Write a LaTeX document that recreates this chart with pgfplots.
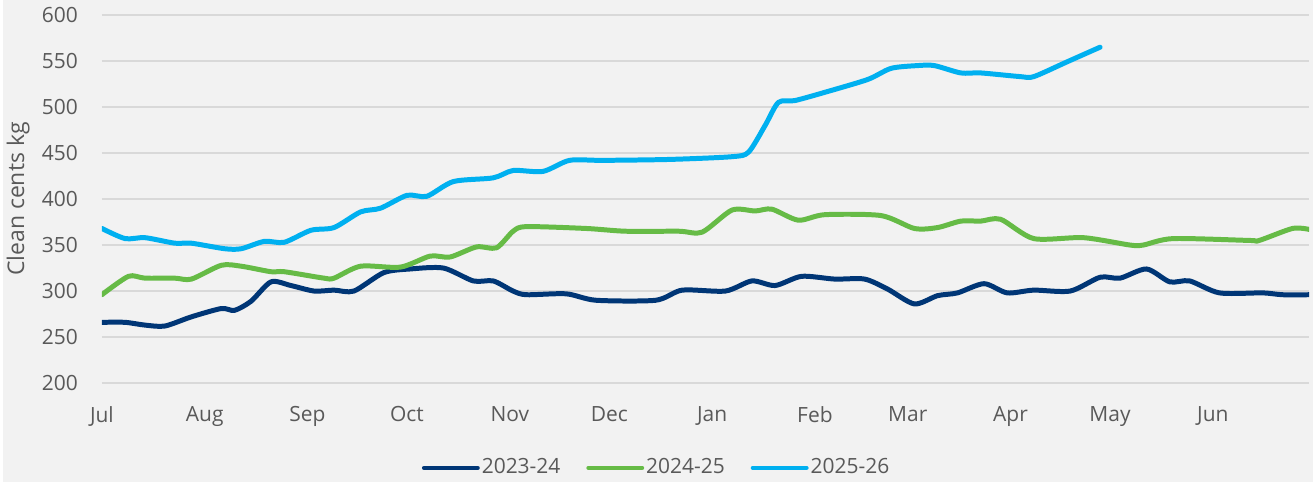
\documentclass[border=0pt]{standalone}
\usepackage{fontspec}
\setmainfont{Open Sans}
\usepackage{pgfplots}
\pgfplotsset{compat=1.18}
\definecolor{bg}{HTML}{F2F2F2}
\definecolor{gridc}{HTML}{D9D9D9}
\definecolor{txt}{HTML}{595959}
\definecolor{cA}{HTML}{003676}
\definecolor{cB}{HTML}{66BB46}
\definecolor{cC}{HTML}{00B0F0}
\begin{document}
\begin{tikzpicture}
\fill[bg] (-49.5pt,-49.5pt) rectangle (607pt,192pt);
\begin{axis}[
  at={(0,0)}, anchor=south west,
  scale only axis, width=605pt, height=184.5pt,
  xmin=0, xmax=364, ymin=200, ymax=600,
  ytick={200,250,...,600},
  xtick={0,31,62,92,123,153,184,215,243,274,304,335},
  xticklabels={Jul,Aug,Sep,Oct,Nov,Dec,Jan,Feb,Mar,Apr,May,Jun},
  axis line style={draw=none},
  major tick length=0pt,
  ymajorgrids, grid style={gridc, line width=0.8pt},
  tick label style={font=\fontsize{10.5}{12}\selectfont, text=txt},
  /pgf/number format/assume math mode=true,
  yticklabel style={xshift=-8.5pt},
  xticklabel style={yshift=-8pt},
  ylabel={Clean cents kg},
  ylabel style={at={(axis description cs:-0.0694,0.5)}, anchor=center, rotate=0, font=\fontsize{11.5}{13}\selectfont, text=txt},
  legend style={at={(axis description cs:0.4595,0)}, anchor=center, yshift=-42.5pt, draw=none, fill=none,
    font=\fontsize{10.5}{12}\selectfont, text=txt, legend columns=-1,
    /tikz/every odd column/.append style={column sep=0pt},
    /tikz/every even column/.append style={column sep=12pt},
    nodes={inner sep=1pt}},
  legend image code/.code={\draw[#1, line width=2pt, line cap=round] (0,0) -- (27pt,0);},
  every axis plot/.append style={line width=2.5pt, smooth, tension=0.45, line cap=round, line join=round},
]
\addplot[cA] coordinates {
(0,266)(7,266)(13,263)(19,262)(27,272)(36,281)(40,279)(45,289)(51,310)(57,306)
(64,300)(70,301)(76,300)(85,320)(93,324)(103,325)(112,311)(118,311)(124,300)(128,296)
(140,297)(149,290)(167,290)(175,301)(188,300)(196,311)(203,306)(211,316)(221,313)(230,313)
(237,302)(245,286)(252,295)(258,298)(266,308)(273,298)(281,301)(292,300)(301,315)(307,314)
(315,324)(322,310)(328,311)(337,298)(350,298)(356,296)(364,296)
};
\addlegendentry{2023-24}
\addplot[cB] coordinates {
(0,296)(8,316)(13,314)(22,314)(27,313)(36,328)(42,327)(51,321)(55,321)(67,314)
(70,314)(78,327)(90,326)(99,338)(105,337)(113,348)(119,347)(124,365)(128,370)(146,368)
(158,365)(174,365)(181,364)(190,388)(197,387)(202,389)(210,377)(218,383)(235,382)(245,368)
(252,369)(259,376)(265,376)(271,378)(281,357)(296,358)(310,350)(314,350)(323,357)(346,355)
(349,355)(359,368)(364,367)
};
\addlegendentry{2024-25}
\addplot[cC] coordinates {
(0,368)(7,357)(13,358)(22,352)(27,352)(37,346)(42,346)(49,354)(55,353)(63,366)
(70,369)(78,386)(84,390)(92,404)(98,403)(106,419)(118,423)(124,431)(133,430)(141,442)
(151,442)(171,443)(190,446)(195,451)(200,480)(204,505)(209,507)(219,517)(231,530)(238,542)
(246,545)(251,545)(259,537)(265,537)(277,533)(281,533)(291,549)(301,565)
};
\addlegendentry{2025-26}
\end{axis}
\end{tikzpicture}
\end{document}
